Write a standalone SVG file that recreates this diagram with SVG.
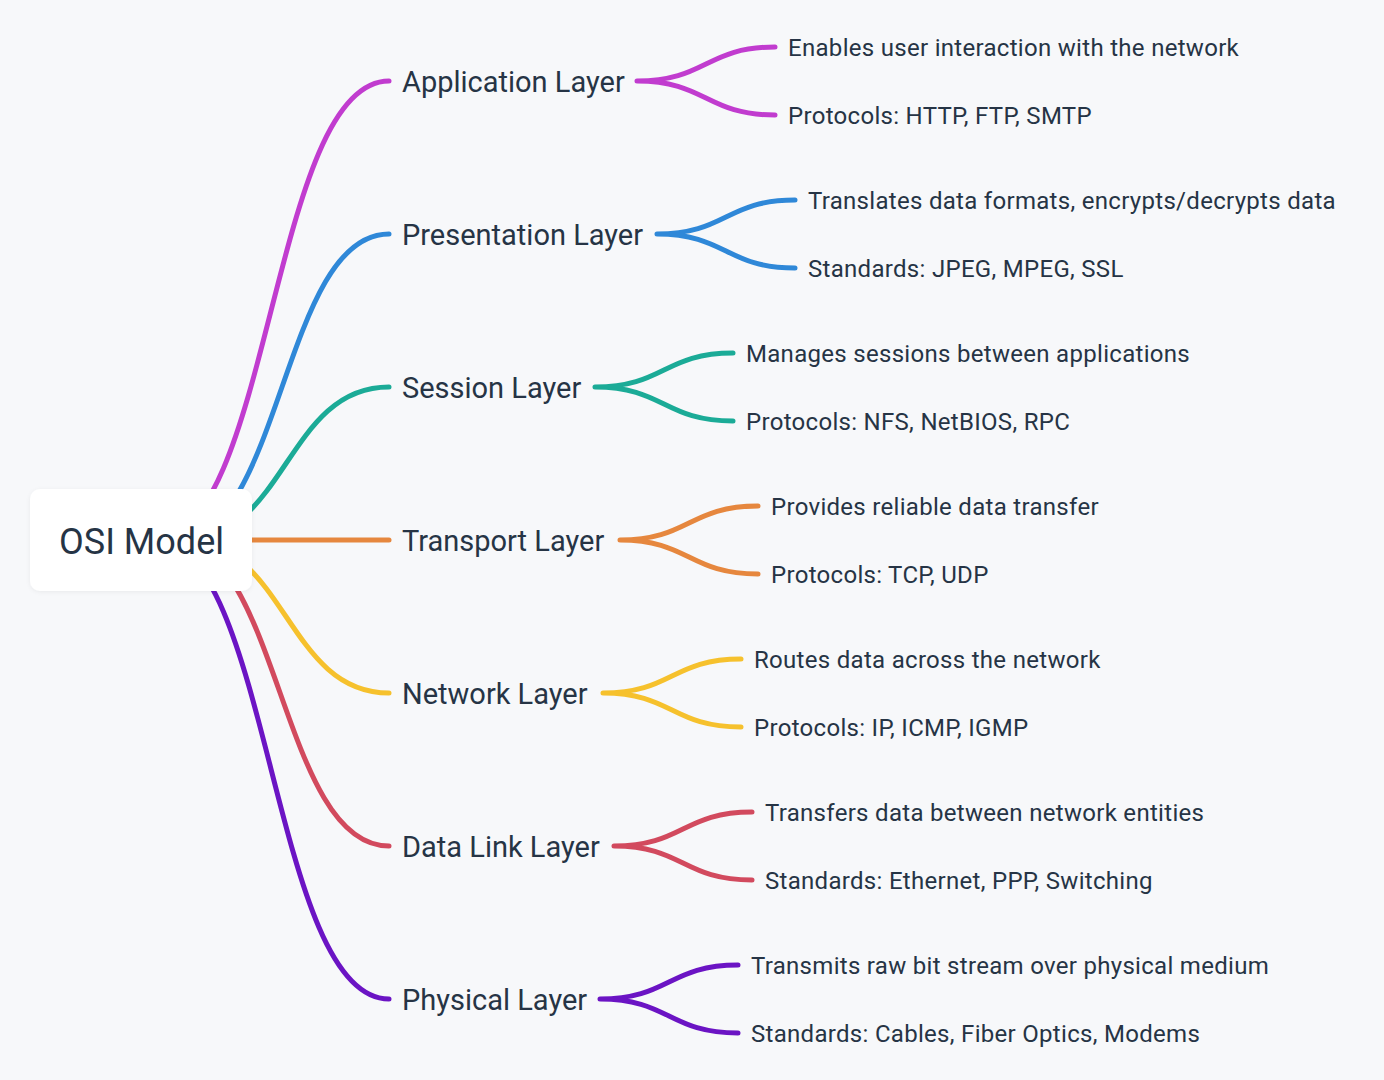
<svg xmlns="http://www.w3.org/2000/svg" width="1384" height="1080" viewBox="0 0 1384 1080">
<defs>
<style>
.bg{fill:#f7f8fa}
.ln{fill:none;stroke-width:5;stroke-linecap:round}
.root{fill:#ffffff}
.rt{font-family:Roboto,"Liberation Sans",sans-serif;font-size:36px;fill:#263445}
.lt{font-family:Roboto,"Liberation Sans",sans-serif;font-size:29px;fill:#263445}
.ct{font-family:Roboto,"Liberation Sans",sans-serif;font-size:24px;fill:#263445;letter-spacing:0.3px}
.c1{stroke:#c13ccf}.c2{stroke:#2f88d8}.c3{stroke:#1bab97}.c4{stroke:#e6873e}
.c5{stroke:#f6c12d}.c6{stroke:#d24a5e}.c7{stroke:#6b14c4}
</style>
<filter id="sh" x="-10%" y="-10%" width="120%" height="130%">
<feDropShadow dx="0" dy="1" stdDeviation="2" flood-color="#000" flood-opacity="0.06"/>
</filter>
</defs>
<rect class="bg" x="0" y="0" width="1384" height="1080"/>
<g id="connectors">
<path class="ln c1" d="M154,540 C271,540 271,81 389,81"/>
<path class="ln c2" d="M175,540 C282,540 282,234 389,234"/>
<path class="ln c3" d="M183,540 C286,540 286,387 389,387"/>
<path class="ln c4" d="M183,540 L389,540"/>
<path class="ln c5" d="M183,540 C286,540 286,693 389,693"/>
<path class="ln c6" d="M172,540 C280,540 280,846 389,846"/>
<path class="ln c7" d="M154,540 C271,540 271,999 389,999"/>
<path class="ln c1" d="M637,81 C706,81 706,47 775,47 M637,81 C706,81 706,115 775,115"/>
<path class="ln c2" d="M657,234 C726,234 726,200 795,200 M657,234 C726,234 726,268 795,268"/>
<path class="ln c3" d="M595,387 C664,387 664,353 733,353 M595,387 C664,387 664,421 733,421"/>
<path class="ln c4" d="M620,540 C689,540 689,506 758,506 M620,540 C689,540 689,574 758,574"/>
<path class="ln c5" d="M603,693 C672,693 672,659 741,659 M603,693 C672,693 672,727 741,727"/>
<path class="ln c6" d="M614,846 C683,846 683,812 752,812 M614,846 C683,846 683,880 752,880"/>
<path class="ln c7" d="M600,999 C669,999 669,965 738,965 M600,999 C669,999 669,1033 738,1033"/>
</g>
<g id="root">
<rect class="root" x="30" y="489" width="222" height="102" rx="10" filter="url(#sh)"/>
<text class="rt" x="59" y="554">OSI Model</text>
</g>
<g id="application">
<text class="lt" x="402" y="91.5">Application Layer</text>
<text class="ct" x="788" y="56">Enables user interaction with the network</text>
<text class="ct" x="788" y="124">Protocols: HTTP, FTP, SMTP</text>
</g>
<g id="presentation">
<text class="lt" x="402" y="244.5">Presentation Layer</text>
<text class="ct" x="808" y="209">Translates data formats, encrypts/decrypts data</text>
<text class="ct" x="808" y="277">Standards: JPEG, MPEG, SSL</text>
</g>
<g id="session">
<text class="lt" x="402" y="397.5">Session Layer</text>
<text class="ct" x="746" y="362">Manages sessions between applications</text>
<text class="ct" x="746" y="430">Protocols: NFS, NetBIOS, RPC</text>
</g>
<g id="transport">
<text class="lt" x="402" y="550.5">Transport Layer</text>
<text class="ct" x="771" y="515">Provides reliable data transfer</text>
<text class="ct" x="771" y="583">Protocols: TCP, UDP</text>
</g>
<g id="network">
<text class="lt" x="402" y="703.5">Network Layer</text>
<text class="ct" x="754" y="668">Routes data across the network</text>
<text class="ct" x="754" y="736">Protocols: IP, ICMP, IGMP</text>
</g>
<g id="datalink">
<text class="lt" x="402" y="856.5">Data Link Layer</text>
<text class="ct" x="765" y="821">Transfers data between network entities</text>
<text class="ct" x="765" y="889">Standards: Ethernet, PPP, Switching</text>
</g>
<g id="physical">
<text class="lt" x="402" y="1009.5">Physical Layer</text>
<text class="ct" x="751" y="974">Transmits raw bit stream over physical medium</text>
<text class="ct" x="751" y="1042">Standards: Cables, Fiber Optics, Modems</text>
</g>
</svg>
